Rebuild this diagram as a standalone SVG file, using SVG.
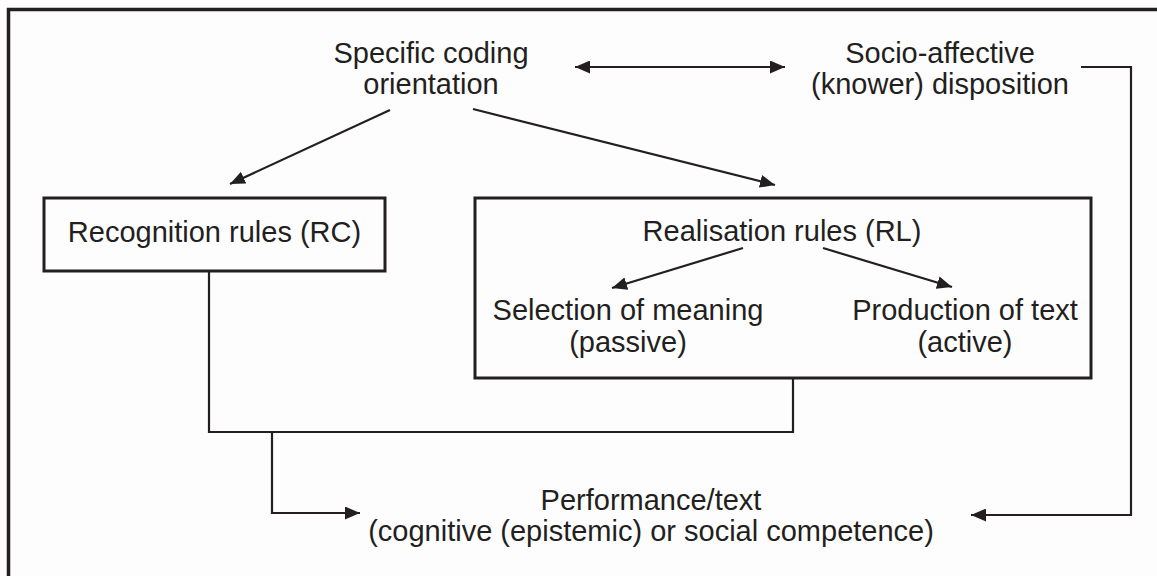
<svg xmlns="http://www.w3.org/2000/svg" width="1157" height="576" viewBox="0 0 1157 576">
<defs>
<marker id="ah" viewBox="0 0 15 13" refX="15" refY="6.5" markerWidth="15" markerHeight="13" markerUnits="userSpaceOnUse" orient="auto-start-reverse">
<path d="M0,0 L15,6.5 L0,13 Z" fill="#231f20"/>
</marker>
<style>
text{font-family:"Liberation Sans",Arial,sans-serif;font-size:29px;fill:#231f20;text-anchor:middle}
.box{fill:none;stroke:#231f20;stroke-width:3}
.c{fill:none;stroke:#231f20;stroke-width:2.2}
.a{marker-end:url(#ah)}
</style>
</defs>
<rect x="0" y="0" width="1157" height="576" fill="#fdfdfd"/>
<path d="M8.5,580 V9.5 H1165" fill="none" stroke="#231f20" stroke-width="3.5"/>
<g id="specific"><text x="431" y="63">Specific coding</text><text x="431" y="94">orientation</text></g>
<g id="socio"><text x="940" y="63">Socio-affective</text><text x="940" y="94">(knower) disposition</text></g>
<g id="rc"><rect class="box" x="44" y="198" width="341" height="73"/><text x="214.5" y="242">Recognition rules (RC)</text></g>
<g id="rl"><rect class="box" x="475" y="198" width="616" height="180"/><text x="782" y="241">Realisation rules (RL)</text></g>
<g id="selection"><text x="628" y="320">Selection of meaning</text><text x="628" y="352">(passive)</text></g>
<g id="production"><text x="965" y="320">Production of text</text><text x="965" y="352">(active)</text></g>
<g id="performance"><text x="651" y="510">Performance/text</text><text x="651" y="541">(cognitive (epistemic) or social competence)</text></g>
<g id="connectors">
<path class="c a" d="M575,67 H785" marker-start="url(#ah)"/>
<path class="c a" d="M390,110 L230,184"/>
<path class="c a" d="M473,109 L775,185"/>
<path class="c a" d="M743,248 L612,288"/>
<path class="c a" d="M823,248 L952,287"/>
<path class="c" d="M209,271 V432 H793 V378"/>
<path class="c a" d="M272,432 V513 H360"/>
<path class="c a" d="M1081,67 H1131 V515 H971"/>
</g>
</svg>
